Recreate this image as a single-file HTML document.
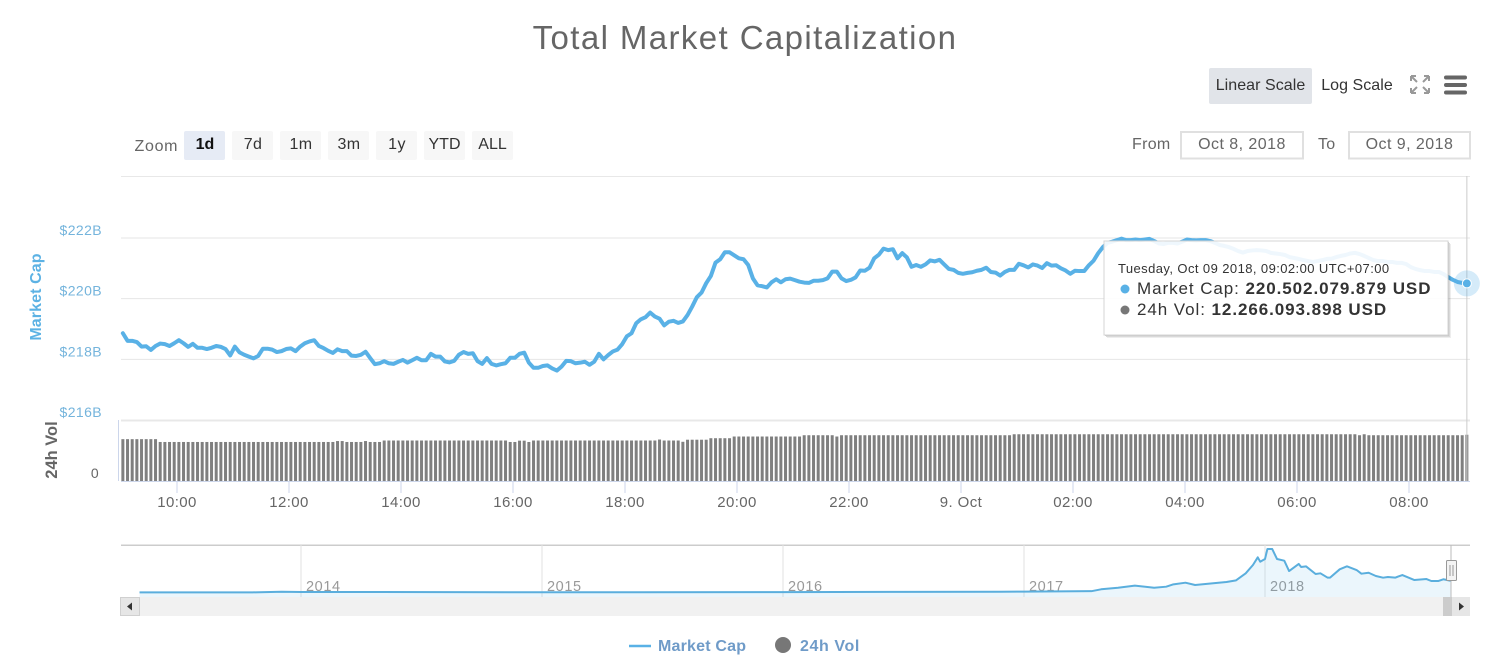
<!DOCTYPE html>
<html lang="en">
<head>
<meta charset="utf-8">
<title>Total Market Capitalization</title>
<style>
html,body{margin:0;padding:0;background:#fff;}
body{width:1496px;height:664px;overflow:hidden;}
svg{display:block;font-family:"Liberation Sans",sans-serif;}
text{font-family:"Liberation Sans",sans-serif;}
</style>
</head>
<body>
<svg id="chart" xmlns="http://www.w3.org/2000/svg" width="1496" height="664" viewBox="0 0 1496 664">
  <text x="745" y="49" text-anchor="middle" font-size="33" letter-spacing="1.4" fill="#666">Total Market Capitalization</text>

  <g>
    <rect x="1209" y="68" width="103" height="36" rx="2" fill="#e1e4e9"/>
    <text x="1260.5" y="90" text-anchor="middle" font-size="16" letter-spacing=".05" fill="#333">Linear Scale</text>
    <text x="1357" y="90" text-anchor="middle" font-size="16" letter-spacing=".05" fill="#333">Log Scale</text>
    <g stroke="#999" stroke-width="2" fill="none">
      <path d="M1411 76l6 6M1429 76l-6 6M1411 93l6-6M1429 93l-6-6"/>
      <path d="M1411 76h5M1411 76v5M1429 76h-5M1429 76v5M1411 93h5M1411 93v-5M1429 93h-5M1429 93v-5"/>
    </g>
    <g fill="#666">
      <rect x="1444" y="75.500" width="23" height="4" rx="2"/>
      <rect x="1444" y="83" width="23" height="4" rx="2"/>
      <rect x="1444" y="90.500" width="23" height="4" rx="2"/>
    </g>
  </g>

  <g>
    <text x="134.500" y="151" font-size="16" letter-spacing=".7" fill="#666">Zoom</text>
    <rect x="184" y="131" width="41" height="29" rx="2" fill="#e6ebf5"/>
    <text x="205" y="149" text-anchor="middle" font-size="16" font-weight="bold" fill="#111">1d</text>
    <rect x="232" y="131" width="41" height="29" rx="2" fill="#f7f7f7"/>
    <text x="253" y="149" text-anchor="middle" font-size="16" letter-spacing=".4" fill="#333">7d</text>
    <rect x="280" y="131" width="41" height="29" rx="2" fill="#f7f7f7"/>
    <text x="301" y="149" text-anchor="middle" font-size="16" letter-spacing=".4" fill="#333">1m</text>
    <rect x="328" y="131" width="41" height="29" rx="2" fill="#f7f7f7"/>
    <text x="349" y="149" text-anchor="middle" font-size="16" letter-spacing=".4" fill="#333">3m</text>
    <rect x="376" y="131" width="41" height="29" rx="2" fill="#f7f7f7"/>
    <text x="397" y="149" text-anchor="middle" font-size="16" letter-spacing=".4" fill="#333">1y</text>
    <rect x="424" y="131" width="41" height="29" rx="2" fill="#f7f7f7"/>
    <text x="444.500" y="149" text-anchor="middle" font-size="16" fill="#333">YTD</text>
    <rect x="472" y="131" width="41" height="29" rx="2" fill="#f7f7f7"/>
    <text x="492.500" y="149" text-anchor="middle" font-size="16" fill="#333">ALL</text>
  </g>

  <g>
    <text x="1132" y="149" font-size="16" letter-spacing=".3" fill="#666">From</text>
    <rect x="1181" y="132" width="122" height="26.500" fill="#fff" stroke="#e0e0e0" stroke-width="2"/>
    <text x="1242" y="149" text-anchor="middle" font-size="16" letter-spacing=".45" fill="#666">Oct 8, 2018</text>
    <text x="1318" y="149" font-size="16" letter-spacing=".3" fill="#666">To</text>
    <rect x="1349" y="132" width="121" height="26.500" fill="#fff" stroke="#e0e0e0" stroke-width="2"/>
    <text x="1409.500" y="149" text-anchor="middle" font-size="16" letter-spacing=".45" fill="#666">Oct 9, 2018</text>
  </g>

  <text transform="translate(41 297) rotate(-90)" text-anchor="middle" font-size="16" font-weight="bold" letter-spacing=".1" fill="#5cb2e4">Market Cap</text>
  <text transform="translate(57 450) rotate(-90)" text-anchor="middle" font-size="16.500" font-weight="bold" fill="#666">24h Vol</text>
  <text x="99" y="478" text-anchor="end" font-size="14" letter-spacing=".4" fill="#666">0</text>

  <rect x="121" y="176" width="1349" height="1" fill="#e8e8e8"/>
  <g id="grid"></g>
  <g id="yLabels"></g>
  <rect x="121" y="419.500" width="1349" height="2" fill="#e8e8e8"/>
  <rect x="118" y="420" width="1" height="61" fill="#ccd6eb"/>
  <g id="bars"></g>
  <rect x="121" y="481" width="1349" height="1" fill="#ccd6eb"/>
  <g id="xAxis"></g>

  <path id="priceLine" fill="none" stroke="#59b1e6" stroke-width="4" stroke-linejoin="round" stroke-linecap="round"/>
  <line id="crosshair" y1="176" y2="481" stroke="#cccccc" stroke-width="1"/>
  <circle id="halo" r="13" fill="#59b1e6" fill-opacity=".25"/>
  <circle id="dot" r="4.500" fill="#59b1e6" stroke="#fff" stroke-width="1"/>

  <g>
    <path d="M1450.500 244V337.500H1107" fill="none" stroke="#000" stroke-opacity=".07" stroke-width="1"/>
    <path d="M1449.500 243V336.500H1106" fill="none" stroke="#000" stroke-opacity=".15" stroke-width="1"/>
    <path d="M1448.500 242V335.500H1105" fill="none" stroke="#000" stroke-opacity=".22" stroke-width="1"/>
    <rect x="1104" y="241" width="344" height="94" fill="#fff" fill-opacity=".9" stroke="#d4d4d4" stroke-width="1"/>
    <text x="1118" y="273" font-size="13" letter-spacing=".42" fill="#333">Tuesday, Oct 09 2018, 09:02:00 UTC+07:00</text>
    <circle cx="1125" cy="289" r="4.500" fill="#59b1e6"/>
    <text x="1137" y="294" font-size="17" letter-spacing=".93" fill="#333">Market Cap: <tspan font-weight="bold">220.502.079.879 USD</tspan></text>
    <circle cx="1125" cy="310" r="4.500" fill="#777"/>
    <text x="1137" y="315" font-size="17" letter-spacing=".93" fill="#333">24h Vol: <tspan font-weight="bold">12.266.093.898 USD</tspan></text>
  </g>

  <g>
    <rect x="121" y="544.500" width="1349" height="1.500" fill="#ccc"/>
    <g id="navGrid"></g>
    <path id="navArea" fill="#59b1e6" fill-opacity=".12"/>
    <path id="navLine" fill="none" stroke="#5aaedd" stroke-width="2" stroke-linejoin="round"/>
    <line x1="1451" x2="1451" y1="545" y2="597" stroke="#bbb" stroke-width="1"/>
    <rect x="1446.500" y="560.500" width="10" height="20" rx="1" fill="#f4f4f4" stroke="#999" stroke-width="1"/>
    <path d="M1450 565v11M1453 565v11" stroke="#999" stroke-width="1"/>
  </g>

  <g>
    <rect x="120" y="597" width="1350" height="19" fill="#f1f1f1"/>
    <rect x="1443" y="597" width="9" height="19" fill="#cccccc"/>
    <rect x="120.500" y="597.500" width="19" height="18" fill="#e6e6e6" stroke="#d0d0d0"/>
    <path d="M127 606.500l5-4v8z" fill="#333"/>
    <rect x="1452" y="597" width="18" height="19" fill="#e6e6e6"/>
    <path d="M1464 606.500l-5-4v8z" fill="#333"/>
  </g>

  <g>
    <g>
      <line x1="629" x2="651" y1="646" y2="646" stroke="#59b1e6" stroke-width="2.500"/>
      <text x="658" y="651" font-size="16" font-weight="bold" letter-spacing=".2" fill="#6f9bc8">Market Cap</text>
    </g>
    <g>
      <circle cx="783" cy="645" r="8" fill="#777"/>
      <text x="800" y="651" font-size="16" font-weight="bold" letter-spacing=".6" fill="#6f9bc8">24h Vol</text>
    </g>
  </g>
</svg>

<script>
// Market cap, in billions USD, one reading every 5 minutes from 09:02.
var marketCap = [
218.86,218.61,218.61,218.57,218.42,218.43,218.31,218.44,218.52,218.50,
218.44,218.53,218.63,218.53,218.41,218.51,218.38,218.38,218.34,218.38,
218.44,218.41,218.34,218.13,218.42,218.23,218.15,218.09,218.03,218.11,
218.35,218.35,218.32,218.24,218.27,218.34,218.36,218.27,218.42,218.53,
218.59,218.63,218.44,218.37,218.28,218.21,218.33,218.27,218.27,218.12,
218.11,218.15,218.25,218.04,217.84,217.87,217.94,217.87,217.85,217.92,
217.98,217.89,217.97,218.05,217.97,217.97,218.18,218.09,218.09,217.93,
217.90,217.95,218.15,218.24,218.18,218.20,217.94,217.85,218.04,217.85,
217.80,217.84,217.87,218.05,218.05,218.18,218.22,217.89,217.72,217.72,
217.78,217.80,217.70,217.63,217.76,217.95,217.94,217.87,217.89,217.92,
217.82,217.92,218.18,218.00,218.14,218.26,218.32,218.50,218.76,218.86,
219.19,219.32,219.39,219.54,219.41,219.34,219.12,219.24,219.27,219.20,
219.25,219.46,219.74,220.05,220.20,220.51,220.75,221.19,221.30,221.53,
221.53,221.43,221.33,221.30,221.11,220.67,220.44,220.41,220.37,220.54,
220.64,220.54,220.64,220.66,220.61,220.56,220.53,220.52,220.59,220.59,
220.61,220.67,220.89,220.89,220.67,220.58,220.62,220.70,220.93,220.92,
221.02,221.33,221.45,221.65,221.60,221.63,221.33,221.50,221.36,221.05,
221.11,221.05,221.13,221.26,221.23,221.28,221.13,220.98,220.95,220.85,
220.82,220.85,220.87,220.92,220.95,221.02,220.88,220.86,220.76,220.88,
220.95,220.95,221.15,221.10,221.03,221.13,221.09,221.01,221.17,221.09,
221.10,221.00,220.93,220.82,220.92,220.91,220.91,221.10,221.25,221.50,
221.70,221.84,221.88,221.93,221.98,221.93,221.93,221.95,221.93,221.95,
221.97,221.90,221.82,221.80,221.84,221.84,221.82,221.88,221.95,221.93,
221.92,221.93,221.93,221.90,221.84,221.77,221.74,221.70,221.64,221.57,
221.52,221.57,221.59,221.60,221.59,221.57,221.51,221.49,221.47,221.44,
221.37,221.34,221.31,221.27,221.24,221.21,221.24,221.27,221.31,221.32,
221.37,221.41,221.44,221.49,221.51,221.47,221.41,221.34,221.27,221.24,
221.24,221.21,221.21,221.18,221.18,221.14,221.04,220.98,220.94,220.91,
220.91,220.88,220.88,220.81,220.71,220.62,220.55,220.52,220.502
];
// 24h volume, in billions USD, same timestamps.
var volume24h = [
11.1,11.1,11.1,11.1,11.1,11.1,11.1,11.1,10.35,10.35,
10.35,10.35,10.35,10.35,10.35,10.35,10.35,10.35,10.35,10.35,
10.35,10.35,10.35,10.35,10.35,10.35,10.35,10.35,10.35,10.35,
10.35,10.35,10.35,10.35,10.35,10.35,10.35,10.35,10.35,10.35,
10.35,10.35,10.35,10.35,10.35,10.35,10.6,10.6,10.35,10.35,
10.35,10.35,10.6,10.35,10.35,10.35,10.74,10.74,10.74,10.74,
10.74,10.74,10.74,10.74,10.74,10.74,10.74,10.74,10.74,10.74,
10.74,10.74,10.74,10.74,10.74,10.74,10.74,10.74,10.74,10.74,
10.74,10.74,10.74,10.35,10.35,10.7,10.7,10.35,10.74,10.74,
10.74,10.74,10.74,10.74,10.74,10.74,10.74,10.74,10.74,10.74,
10.74,10.74,10.74,10.74,10.74,10.74,10.74,10.74,10.74,10.74,
10.74,10.74,10.74,10.74,10.74,11.0,10.74,10.74,10.74,10.74,
10.4,10.95,10.95,10.95,10.95,10.95,11.35,11.35,11.35,11.35,
11.35,11.8,11.8,11.8,11.8,11.8,11.8,11.8,11.8,11.8,
11.8,11.8,11.8,11.8,11.8,11.8,12.14,12.14,12.14,12.14,
12.14,12.14,12.14,11.8,12.14,12.14,12.14,12.14,12.14,12.14,
12.14,12.14,12.14,12.14,12.14,12.14,12.14,12.14,12.14,12.14,
12.14,12.14,12.14,12.14,12.14,12.14,12.14,12.14,12.14,12.14,
12.14,12.14,12.14,12.14,12.14,12.14,12.14,12.14,12.14,12.14,
12.14,12.4,12.4,12.4,12.4,12.4,12.4,12.4,12.4,12.4,
12.4,12.4,12.4,12.4,12.4,12.4,12.4,12.4,12.4,12.4,
12.4,12.4,12.4,12.4,12.4,12.4,12.4,12.4,12.4,12.4,
12.4,12.4,12.4,12.4,12.4,12.4,12.4,12.4,12.4,12.4,
12.4,12.4,12.4,12.4,12.4,12.4,12.4,12.4,12.4,12.4,
12.4,12.4,12.4,12.4,12.4,12.4,12.4,12.4,12.4,12.4,
12.4,12.4,12.4,12.4,12.4,12.4,12.4,12.4,12.4,12.4,
12.4,12.4,12.4,12.4,12.4,12.14,12.4,12.14,12.14,12.14,
12.14,12.14,12.14,12.14,12.14,12.14,12.14,12.14,12.14,12.14,
12.14,12.14,12.14,12.14,12.14,12.14,12.14,12.14,12.27
];
var priceTicks = [216, 218, 220, 222];
var priceTickLabels = ["$216B", "$218B", "$220B", "$222B"];
var timeTickHours = [10, 12, 14, 16, 18, 20, 22, 24, 26, 28, 30, 32];
var timeTickLabels = ["10:00", "12:00", "14:00", "16:00", "18:00", "20:00", "22:00", "9. Oct", "02:00", "04:00", "06:00", "08:00"];
var navYears = [2013.33,2013.8,2013.92,2014.0,2015.0,2016.0,2016.5,2016.9,2017.0,2017.28,2017.32,2017.39,2017.46,2017.54,2017.59,2017.62,2017.67,2017.71,2017.78,2017.84,2017.88,2017.92,2017.95,2017.97,2017.98,2018.0,2018.01,2018.03,2018.05,2018.08,2018.10,2018.14,2018.15,2018.17,2018.21,2018.23,2018.26,2018.27,2018.31,2018.34,2018.38,2018.40,2018.43,2018.46,2018.49,2018.51,2018.54,2018.57,2018.62,2018.67,2018.69,2018.72,2018.74,2018.77];
var navValues = [2,3,13,10,5,7,11,15,17,25,60,90,128,90,109,153,184,141,172,197,228,360,516,660,578,628,816,816,628,597,403,535,478,491,347,360,278,278,435,491,422,353,371,310,278,291,278,328,234,253,216,216,248,221];
var navYearTicks = [2014, 2015, 2016, 2017, 2018];

var SVG_NS = "http://www.w3.org/2000/svg";
var startHour = 9 + 2 / 60;
var stepHours = 5 / 60;
function xHour(h) { return 121 + (h - 9) * 56; }
function yPrice(v) { return 238 + (222 - v) * 30.33; }
function hVolume(v) { return v * 3.77; }
function xYear(y) { return 301 + (y - 2014) * 241; }
function yNav(v) { return 592.5 - v * 0.0533; }
function make(tag, attrs, parent) {
  var el = document.createElementNS(SVG_NS, tag);
  for (var k in attrs) { el.setAttribute(k, attrs[k]); }
  parent.appendChild(el);
  return el;
}

var grid = document.getElementById("grid");
var yLabels = document.getElementById("yLabels");
priceTicks.forEach(function (tick, i) {
  var y = yPrice(tick);
  var line = make("line", {x1: 121, x2: 1470, y1: y, y2: y, stroke: "#e6e6e6", "stroke-width": 1}, grid);
  
  
  var label = make("text", {x: 102, y: y - 3, "text-anchor": "end", "font-size": 14, "letter-spacing": ".4", fill: "#74b4dc"}, yLabels);
  label.textContent = priceTickLabels[i];
  
  
});

var barsGroup = document.getElementById("bars");
volume24h.forEach(function (v, i) {
  var x = xHour(startHour + i * stepHours);
  var h = hVolume(v);
  var bar = make("rect", {x: x - 1.5, y: 481 - h, width: 3, height: h, fill: "#7f7f7f"}, barsGroup);
  
  
});

var xAxis = document.getElementById("xAxis");
timeTickHours.forEach(function (hour, i) {
  var x = xHour(hour);
  var tick = make("line", {x1: x, x2: x, y1: 481, y2: 493, stroke: "#ccd6eb", "stroke-width": 1}, xAxis);
  
  
  var label = make("text", {x: x, y: 507, "text-anchor": "middle", "font-size": 15, "letter-spacing": ".4", fill: "#666"}, xAxis);
  label.textContent = timeTickLabels[i];
  
  
});

var d = marketCap.map(function (v, i) {
  return (i ? "L" : "M") + xHour(startHour + i * stepHours).toFixed(2) + " " + yPrice(v).toFixed(2);
}).join("");
document.getElementById("priceLine").setAttribute("d", d);

var lastX = xHour(startHour + (marketCap.length - 1) * stepHours);
var lastY = yPrice(marketCap[marketCap.length - 1]);
document.getElementById("crosshair").setAttribute("x1", lastX);
document.getElementById("crosshair").setAttribute("x2", lastX);
document.getElementById("halo").setAttribute("cx", lastX);
document.getElementById("halo").setAttribute("cy", lastY);
document.getElementById("dot").setAttribute("cx", lastX);
document.getElementById("dot").setAttribute("cy", lastY);

var navGrid = document.getElementById("navGrid");
navYearTicks.forEach(function (year) {
  var x = xYear(year);
  var line = make("line", {x1: x, x2: x, y1: 545, y2: 597, stroke: "#e2e2e2", "stroke-width": 1}, navGrid);
  
  
  var label = make("text", {x: x + 5, y: 591, "font-size": 14.500, "letter-spacing": ".6", fill: "#999"}, navGrid);
  label.textContent = String(year);
  
  
});
var navD = navValues.map(function (v, i) {
  return (i ? "L" : "M") + xYear(navYears[i]).toFixed(2) + " " + yNav(v).toFixed(2);
}).join("");
document.getElementById("navLine").setAttribute("d", navD);
document.getElementById("navArea").setAttribute("d", navD + "L" + xYear(navYears[navYears.length - 1]).toFixed(2) + " 597L" + xYear(navYears[0]).toFixed(2) + " 597Z");
</script>
</body>
</html>
